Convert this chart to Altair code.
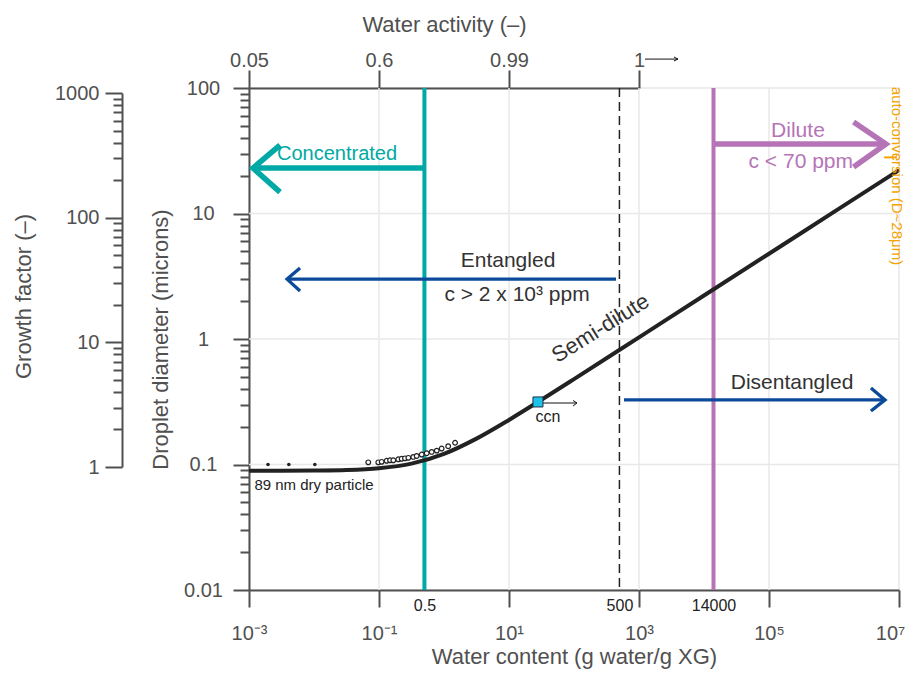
import altair as alt
import pandas as pd

# ---------------- data ----------------
# model curve: droplet diameter (microns) vs water content (g water / g XG)
curve_w = [1e-3, 3.16e-3, 1e-2, 3.16e-2, 1e-1, 3.16e-1, 1, 3.16, 10, 31.6, 100, 1e3, 1e4, 1e5, 1e6, 1e7]
curve_d = [0.0890, 0.0891, 0.0895, 0.0904, 0.0934, 0.1016, 0.1216, 0.1608, 0.2266, 0.328, 0.479,
           1.031, 2.219, 4.78, 10.30, 22.19]

# measured points
dots_w = [0.00196, 0.0041, 0.0103]
dots_d = [0.100, 0.100, 0.100]
circ_w = [0.0684, 0.0975, 0.110, 0.131, 0.148, 0.166, 0.198, 0.223, 0.251, 0.283, 0.337,
          0.380, 0.454, 0.542, 0.647, 0.773, 0.92, 1.16, 1.48]
circ_d = [0.104, 0.104, 0.105, 0.107, 0.108, 0.108, 0.110, 0.111, 0.112, 0.113, 0.115,
          0.117, 0.120, 0.123, 0.126, 0.129, 0.134, 0.140, 0.149]
ccn_w = [27.9]
ccn_d = [0.315]

# regime boundaries (water content)
conc_w = [0.5]
entangle_w = [500]
dilute_w = [14000]
autoconv_d = [28]

# axes
x_major = [1e-3, 1e-1, 1e1, 1e3, 1e5, 1e7]
x_major_labels = ["10\u207b\u00b3", "10\u207b\u00b9", "10\u00b9", "10\u00b3", "10\u2075", "10\u2077"]
x_special = [0.5, 500, 14000]
x_special_labels = ["0.5", "500", "14000"]
aw_pos = [1e-3, 1e-1, 1e1, 1e3]
aw_labels = ["0.05", "0.6", "0.99", "1"]
y_major = [0.01, 0.1, 1, 10, 100]
y_ticks = [m * d for d in [0.01, 0.1, 1, 10] for m in range(1, 10)] + [100]
gf_major = [1, 10, 100, 1000]
gf_ticks = [m * d for d in [1, 10, 100] for m in range(1, 10)] + [1000]
grid_x = [1e-1, 1e1, 1e3, 1e5]
grid_y = [0.1, 1, 10]

# annotation arrows (data coordinates)
conc_shaft_x, conc_shaft_y = [0.5, 0.00115], [23.0, 23.0]
conc_head_x, conc_head_y = [0.0030, 0.00115, 0.0030], [35.1, 23.0, 14.8]
ent_shaft_x, ent_shaft_y = [443, 0.00385], [3.0, 3.0]
ent_head_x, ent_head_y = [0.0061, 0.00385, 0.0061], [3.68, 3.0, 2.41]
dis_shaft_x, dis_shaft_y = [588, 6.1e6], [0.327, 0.327]
dis_head_x, dis_head_y = [3.7e6, 6.1e6, 3.7e6], [0.407, 0.327, 0.267]
dil_shaft_x, dil_shaft_y = [14000, 6.3e6], [35.8, 35.8]
dil_head_x, dil_head_y = [2.0e6, 6.3e6, 2.0e6], [53.6, 35.8, 23.5]
ccn_shaft_x, ccn_shaft_y = [33.3, 111], [0.309, 0.309]
ccn_head_x, ccn_head_y = [96.6, 111, 96.6], [0.3236, 0.309, 0.2924]
top_shaft_x, top_shaft_y = [1237, 3981], [170, 170]
top_head_x, top_head_y = [3451, 3981, 3451], [176.7, 170, 164.1]
autoconv_tick_x = [5.9e6, 9.0e6]

# ---------------- styling ----------------
AX = "#505050"
FONT = "Liberation Sans"
TEAL = "#00a9a5"
PURPLE = "#b574b6"
BLUE = "#0b4a9b"
ORANGE = "#f5a300"
GRID = "#e8e8e8"


def chain(values, labels):
    expr = "''"
    for v, l in reversed(list(zip(values, labels))):
        expr = f"(abs(datum.value - {v}) < {v} * 1e-6 ? '{l}' : {expr})"
    return expr


def is_major(vals):
    return "indexof([" + ",".join(str(v) for v in vals) + "], datum.value) >= 0"


xs = alt.Scale(type="log", domain=[1e-3, 1e7])
ys = alt.Scale(type="log", domain=[0.01, 100])

x_axis = alt.Axis(
    orient="bottom", values=x_major, labelExpr=chain(x_major, x_major_labels),
    tickSize=17, tickWidth=2, tickColor=AX, domainColor=AX, domainWidth=2,
    labelFont=FONT, labelFontSize=20, labelColor=AX, labelPadding=16, labelFlush=False,
    labelOffset={"condition": {"test": f"datum.value > {x_major[-2]}", "value": -9}, "value": 0},
    labelOverlap=False, grid=False,
    title="Water content (g water/g XG)", titleFont=FONT, titleFontSize=22,
    titleFontWeight="normal", titleColor=AX, titleY=66, titleBaseline="middle",
)
y_axis = alt.Axis(
    orient="left", values=y_ticks,
    labelExpr=f"{is_major(y_major)} ? format(datum.value, '~g') : ''",
    tickSize={"condition": {"test": is_major(y_major), "value": 16}, "value": 9},
    tickWidth=2, tickColor=AX, domainColor=AX, domainWidth=2,
    labelFont=FONT, labelFontSize=20, labelColor=AX, labelAlign="center",
    labelBaseline="middle", labelPadding=30, labelFlush=False, labelOverlap=False, grid=False,
    title="Droplet diameter (microns)", titleFont=FONT, titleFontSize=22,
    titleFontWeight="normal", titleColor=AX, titleX=-89, titleY=251, titleBaseline="middle",
)


def X(f="x"):
    return alt.X(f"{f}:Q", scale=xs, axis=x_axis)


def Y(f="y"):
    return alt.Y(f"{f}:Q", scale=ys, axis=y_axis)


def seg_df(xv, yv, part):
    return pd.DataFrame({"x": xv, "y": yv, "part": part, "ord": list(range(len(xv)))})


def arrow(shx, shy, hx, hy, color, width):
    df = pd.concat([seg_df(shx, shy, "shaft"), seg_df(hx, hy, "head")])
    return alt.Chart(df).mark_line(color=color, strokeWidth=width, strokeJoin="miter",
                                   strokeCap="butt").encode(
        x=X(), y=Y(), detail="part:N", order="ord:Q")


def label(xv, yv, txt, color, size, angle=0):
    df = pd.DataFrame({"x": [xv], "y": [yv], "t": [txt]})
    return alt.Chart(df).mark_text(color=color, font=FONT, fontSize=size, align="center",
                                   baseline="middle", angle=angle).encode(
        x=X(), y=Y(), text="t:N")


gx = alt.Chart(pd.DataFrame({"x": grid_x})).mark_rule(color=GRID, strokeWidth=1.5).encode(x=X())
gy = alt.Chart(pd.DataFrame({"y": grid_y})).mark_rule(color=GRID, strokeWidth=1.5).encode(y=Y())

teal_line = alt.Chart(pd.DataFrame({"x": conc_w})).mark_rule(color=TEAL, strokeWidth=4).encode(x=X())
dash_line = alt.Chart(pd.DataFrame({"x": entangle_w})).mark_rule(
    color="#222222", strokeWidth=1.5, strokeDash=[9, 5]).encode(x=X())
purple_line = alt.Chart(pd.DataFrame({"x": dilute_w})).mark_rule(color=PURPLE, strokeWidth=4).encode(x=X())

curve = alt.Chart(pd.DataFrame({"x": curve_w, "y": curve_d})).mark_line(
    color="#222222", strokeWidth=4, interpolate="monotone").encode(x=X(), y=Y())

dots = alt.Chart(pd.DataFrame({"x": dots_w, "y": dots_d})).mark_circle(
    color="#222222", size=13, opacity=1).encode(x=X(), y=Y())
circs = alt.Chart(pd.DataFrame({"x": circ_w, "y": circ_d})).mark_point(
    shape="circle", filled=True, fill="white", stroke="#222222", strokeWidth=1.2, size=22,
    opacity=1).encode(x=X(), y=Y())
ccn = alt.Chart(pd.DataFrame({"x": ccn_w, "y": ccn_d})).mark_square(
    fill="#1ec3ec", stroke="#1a3040", strokeWidth=1, size=100, opacity=1).encode(x=X(), y=Y())

ac_tick = alt.Chart(pd.DataFrame({"x": [autoconv_tick_x[0]], "x2": [autoconv_tick_x[1]],
                                  "y": autoconv_d})).mark_rule(color=ORANGE, strokeWidth=2).encode(
    x=X(), x2="x2:Q", y=Y())

inner = alt.layer(
    gx, gy, teal_line, dash_line, purple_line,
    arrow(conc_shaft_x, conc_shaft_y, conc_head_x, conc_head_y, TEAL, 5.5),
    arrow(ent_shaft_x, ent_shaft_y, ent_head_x, ent_head_y, BLUE, 3.3),
    arrow(dis_shaft_x, dis_shaft_y, dis_head_x, dis_head_y, BLUE, 3.3),
    arrow(dil_shaft_x, dil_shaft_y, dil_head_x, dil_head_y, PURPLE, 5.5),
    arrow(ccn_shaft_x, ccn_shaft_y, ccn_head_x, ccn_head_y, "#111111", 1),
    arrow(top_shaft_x, top_shaft_y, top_head_x, top_head_y, "#111111", 1),
    curve, dots, circs, ccn, ac_tick,
    label(0.0226, 29.8, "Concentrated", TEAL, 20),
    label(2.79e5, 45.8, "Dilute", PURPLE, 21),
    label(3.08e5, 25.9, "c < 70 ppm", PURPLE, 21),
    label(9.66, 4.18, "Entangled", "#333333", 21),
    label(13.3, 2.24, "c > 2 x 10\u00b3 ppm", "#333333", 21),
    label(2.26e5, 0.446, "Disentangled", "#333333", 21),
    label(256, 1.22, "Semi-dilute", "#333333", 22, 328),
    label(39.8, 0.239, "ccn", "#222222", 16),
    label(0.01, 0.0687, "89 nm dry particle", "#222222", 15),
    label(9.3e6, 19.9, "auto-conversion (D~28\u03bcm)", ORANGE, 15, 90),
)

# top water-activity axis (own scale covering only 10^-3..10^3)
top_axis = alt.Chart(pd.DataFrame({"x": aw_pos})).mark_point(opacity=0).encode(
    x=alt.X("x:Q", scale=alt.Scale(type="log", domain=[1e-3, 1e3], range=[0, 390]),
            axis=alt.Axis(orient="top", values=aw_pos, labelExpr=chain(aw_pos, aw_labels),
                          tickSize=18, tickWidth=2, tickColor=AX, domainColor=AX, domainWidth=2,
                          labelFont=FONT, labelFontSize=20, labelColor=AX, labelPadding=0,
                          labelFlush=False, labelOverlap=False, grid=False,
                          title="Water activity (\u2013)", titleFont=FONT, titleFontSize=22,
                          titleFontWeight="normal", titleColor=AX, titleX=195, titleY=-64,
                          titleBaseline="middle")))

# special labels under the bottom axis
special_axis = alt.Chart(pd.DataFrame({"x": x_special})).mark_point(opacity=0).encode(
    x=alt.X("x:Q", scale=alt.Scale(type="log", domain=[1e-3, 1e7]),
            axis=alt.Axis(orient="bottom", values=x_special,
                          labelExpr=chain(x_special, x_special_labels),
                          tickSize=0, domain=False, labelFont=FONT, labelFontSize=16,
                          labelColor="#222222", labelPadding=7, labelFlush=False,
                          labelOverlap=False, grid=False, title=None)))

# growth factor axis
gf_axis = alt.Chart(pd.DataFrame({"g": gf_major})).mark_point(opacity=0).encode(
    y=alt.Y("g:Q", scale=alt.Scale(type="log", domain=[1, 1000], range=[379, 5]),
            axis=alt.Axis(orient="left", offset=127, values=gf_ticks,
                          labelExpr=f"{is_major(gf_major)} ? format(datum.value, 'd') : ''",
                          tickSize={"condition": {"test": is_major(gf_major), "value": 17}, "value": 9},
                          tickWidth=2, tickColor=AX, domainColor=AX, domainWidth=2,
                          labelFont=FONT, labelFontSize=20, labelColor=AX, labelPadding=6,
                          labelBaseline="middle", labelFlush=False, labelOverlap=False, grid=False,
                          title="Growth factor (\u2013)", titleFont=FONT, titleFontSize=22,
                          titleFontWeight="normal", titleColor=AX, titleX=-99, titleY=208,
                          titleBaseline="middle")))

chart = alt.layer(inner, top_axis, special_axis, gf_axis).resolve_scale(
    x="independent", y="independent"
).properties(
    width=650, height=502,
    padding={"left": 241, "top": 80, "right": 8, "bottom": 79},
    autosize=alt.AutoSizeParams(type="none"),
).configure_view(stroke=GRID, strokeWidth=1.5)

chart.save("out.html", embed_options={"renderer": "svg", "actions": False})
